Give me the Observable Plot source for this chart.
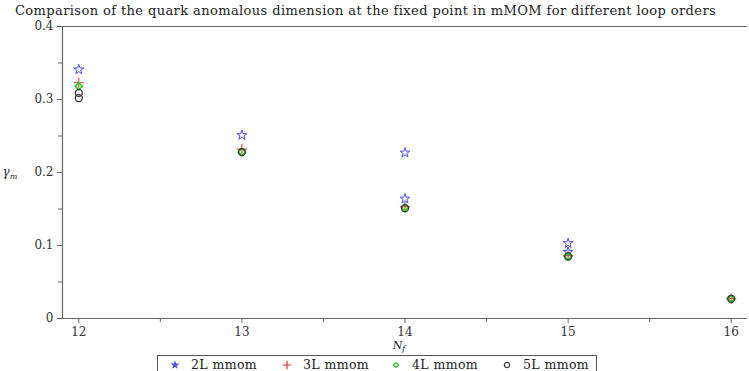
<!DOCTYPE html>
<html><head><meta charset="utf-8">
<script src="https://cdn.jsdelivr.net/npm/d3@7"></script>
<script src="https://cdn.jsdelivr.net/npm/@observablehq/plot@0.6"></script>
<style>
body{margin:0;background:#fff;font-family:"DejaVu Serif",serif;}
#wrap{position:relative;width:749px;height:371px;overflow:hidden;}
#title{position:absolute;left:15px;top:3px;font-size:13px;letter-spacing:0.4px;color:#222;white-space:nowrap;}
#legend{position:absolute;left:157px;top:355px;width:440px;height:20px;border:1px solid #555;box-sizing:border-box;font-size:12.5px;letter-spacing:0.4px;color:#222;line-height:14px;white-space:nowrap;}
#legend .it{display:flex;align-items:center;white-space:nowrap;}
#legend svg{margin-right:11px;}
#chart{position:absolute;left:0;top:0;}
</style></head><body>
<div id="wrap"><div id="chart"></div><div id="title"></div><div id="legend"></div></div>
<script>
const titleText = "Comparison of the quark anomalous dimension at the fixed point in mMOM for different loop orders";
const yLabel = "γ";
const xLabel = "N";
const xTicks = [12, 13, 14, 15, 16];
const yTicks = [0, 0.1, 0.2, 0.3, 0.4];
const xMinor = [12.5, 13.5, 14.5, 15.5];
const yMinor = [0.05, 0.15, 0.25, 0.35];
const seriesNames = ["2L mmom", "3L mmom", "4L mmom", "5L mmom"];

const nf2L = [12, 13, 14, 14, 15, 15];
const gm2L = [0.341, 0.251, 0.227, 0.164, 0.103, 0.091];
const nf3L = [12, 13, 14, 15, 16];
const gm3L = [0.323, 0.232, 0.153, 0.086, 0.027];
const nf4L = [12, 13, 14, 15, 16];
const gm4L = [0.318, 0.228, 0.152, 0.085, 0.027];
const nf5L = [12, 12, 13, 14, 15, 16];
const gm5L = [0.309, 0.302, 0.228, 0.151, 0.085, 0.027];

const styles = [
  {symbol: "star", stroke: "#4d4dff", r: 3.1, sw: 1},
  {symbol: "plus", stroke: "#e03030", r: 3.4, sw: 1},
  {symbol: "diamond2", stroke: "#22cc22", r: 3.2, sw: 1.6},
  {symbol: "circle", stroke: "#333", r: 3.5, sw: 1.3}
];
const sets = [[nf2L, gm2L], [nf3L, gm3L], [nf4L, gm4L], [nf5L, gm5L]];
const rows = (i) => sets[i][0].map((nf, j) => ({nf, g: sets[i][1][j]}));

document.getElementById("title").textContent = titleText;

const axisColor = "#666";

const plot = Plot.plot({
  width: 749, height: 371,
  marginTop: 26, marginBottom: 53, marginLeft: 62, marginRight: 2,
  style: {fontFamily: "DejaVu Serif, serif", fontSize: "12px", color: "#333", background: "white"},
  x: {type: "linear", domain: [11.9, 16.1]},
  y: {type: "linear", domain: [0, 0.4]},
  marks: [
    Plot.ruleY([0, 0.4], {stroke: axisColor, strokeWidth: 1.2}),
    Plot.ruleX([11.9], {stroke: axisColor, strokeWidth: 1.2}),
    Plot.axisY(yTicks, {tickSize: 5, tickPadding: 4, stroke: axisColor, fill: "#333", tickFormat: d => d === 0 ? "0" : d3.format(".1f")(d), label: null}),
    Plot.axisY(yMinor, {tickSize: 4, stroke: axisColor, tickFormat: () => "", label: null}),
    Plot.axisX(xTicks, {tickSize: 5, tickPadding: 4, stroke: axisColor, fill: "#333", tickFormat: d3.format("d"), label: null}),
    Plot.axisX(xMinor, {tickSize: 4, stroke: axisColor, tickFormat: () => "", label: null}),
    ...styles.map((s, i) => Plot.dot(rows(i), {x: "nf", y: "g", symbol: () => s.symbol, stroke: s.stroke, fill: "none", r: s.r, strokeWidth: s.sw}))
  ]
});
document.getElementById("chart").appendChild(plot);

const svg = d3.select(plot);
svg.append("text").attr("x", 10).attr("y", 176).attr("font-style", "italic").attr("font-size", 12).attr("fill", "#223")
  .text(yLabel).append("tspan").attr("font-size", 8).attr("dy", 3).text("m");
svg.append("text").attr("x", 399).attr("y", 349).attr("font-style", "italic").attr("font-size", 11).attr("fill", "#223")
  .text(xLabel).append("tspan").attr("font-size", 8).attr("dy", 2).text("f");

const leg = d3.select("#legend");
const legPos = [12, 124, 233, 344];
styles.forEach((s, i) => {
  const it = leg.append("div").attr("class", "it").style("position", "absolute").style("left", legPos[i] + "px").style("top", "2px");
  const sv = it.append("svg").attr("width", 10).attr("height", 10).attr("viewBox", "-5 -5 10 10");
  const sym = {star: d3.symbolStar, plus: d3.symbolPlus, diamond2: d3.symbolDiamond2, circle: d3.symbolCircle}[s.symbol];
  const sizes = {star: 26, plus: 26, diamond2: 16, circle: 22};
  const filled = s.symbol === "star";
  sv.append("path").attr("d", d3.symbol(sym, sizes[s.symbol])())
    .attr("fill", filled ? s.stroke : "none").attr("stroke", filled ? "none" : s.stroke).attr("stroke-width", 1.2);
  it.append("span").text(seriesNames[i]);
});
</script></body></html>
